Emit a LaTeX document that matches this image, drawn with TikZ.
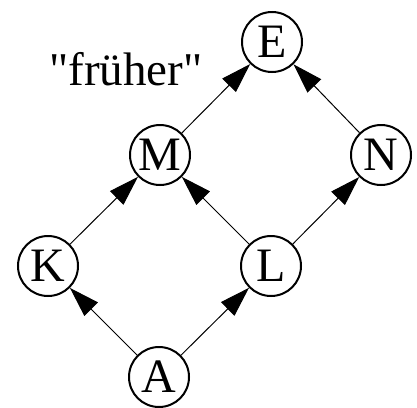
\documentclass[tikz,border=0pt]{standalone}
\usepackage{fontspec}
\setmainfont{Liberation Serif}[Ligatures=TeXOff]
\usetikzlibrary{arrows.meta}
\begin{document}
\begin{tikzpicture}[x=1pt,y=-1pt,
  vert/.style={circle,draw,line width=2pt,minimum size=60pt,inner sep=0pt,font=\fontsize{48}{52}\selectfont},
  edge/.style={line width=1pt,-{Triangle[length=30pt,width=19pt]}}]
\useasboundingbox (0,0) rectangle (417,407);
\node[vert] (E) at (272,42) {E};
\node[vert] (M) at (160,155) {M};
\node[vert] (N) at (381,155) {N};
\node[vert] (K) at (48,266) {K};
\node[vert] (L) at (271,266) {L};
\node[vert] (A) at (159,377) {A};
\node[anchor=base,inner sep=0pt,font=\fontsize{47}{52}\selectfont] (lab) at (126,85) {"früher"};
\draw[edge] (M) -- (E);
\draw[edge] (N) -- (E);
\draw[edge] (K) -- (M);
\draw[edge] (L) -- (M);
\draw[edge] (L) -- (N);
\draw[edge] (A) -- (K);
\draw[edge] (A) -- (L);
\end{tikzpicture}
\end{document}
